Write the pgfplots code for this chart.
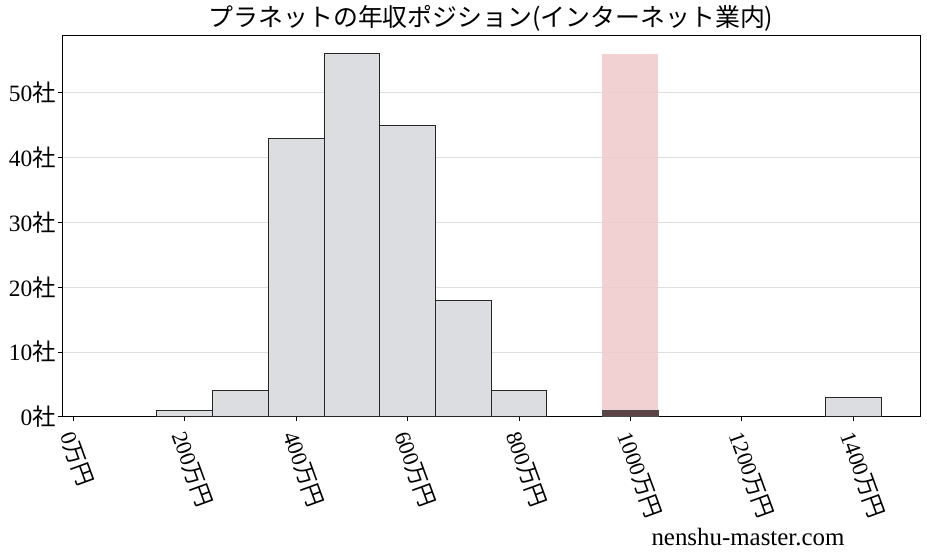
\documentclass[border=0pt]{standalone}
\usepackage{pgfplots}
\pgfplotsset{compat=1.18}
\usepackage{fontspec}
\setmainfont{Liberation Serif}
\newfontfamily\jp{Noto Sans CJK JP}
\definecolor{barfill}{RGB}{220,221,224}
\definecolor{hl}{RGB}{240,204,205}
\definecolor{darkbar}{RGB}{94,68,68}
\definecolor{gridc}{RGB}{222,222,222}
\begin{document}
\begin{tikzpicture}
\begin{axis}[name=ax, scale only axis, width=858bp, height=381bp,
  xmin=-20, xmax=1520, ymin=0, ymax=58.8,
  axis line style={black, line width=0.8bp},
  xtick={0,200,400,600,800,1000,1200,1400},
  xticklabels={0{\jp 万円},200{\jp 万円},400{\jp 万円},600{\jp 万円},800{\jp 万円},1000{\jp 万円},1200{\jp 万円},1400{\jp 万円}},
  ytick={0,10,20,30,40,50},
  yticklabels={0{\jp 社},10{\jp 社},20{\jp 社},30{\jp 社},40{\jp 社},50{\jp 社}},
  xtick pos=bottom, ytick pos=left, tick align=outside,
  major tick length=4bp, tick style={black, line width=0.6bp},
  ymajorgrids, grid style={gridc, line width=0.6bp},
  xticklabel style={rotate=-70, anchor=north west, inner sep=1bp, xshift=8bp, yshift=1bp, font=\fontsize{22.5}{22.5}\selectfont},
  yticklabel style={font=\fontsize{23.5}{23.5}\selectfont, inner sep=2bp},
  title={\jp プラネットの年収ポジション(インターネット業内)},
  title style={font=\fontsize{25}{28}\selectfont, at={(0.5,1)}, anchor=center, yshift=11bp, inner sep=0pt},
  ybar, bar width=100, bar shift=0,
]
\addplot[fill=barfill, draw=black!85, line width=0.7bp] coordinates {
  (200,1) (300,4) (400,43) (500,56) (600,45) (700,18) (800,4) (1400,3)};
\addplot[fill=hl, draw=none, fill opacity=0.9] coordinates {(1000,56)};
\addplot[fill=darkbar, draw=black!70, line width=0.5bp] coordinates {(1000,1)};
\end{axis}
\node[font=\fontsize{25}{25}\selectfont, anchor=center] at ([xshift=-172bp,yshift=-120bp]ax.south east) {nenshu-master.com};
\path ([xshift=-62bp,yshift=-140bp]ax.south west) rectangle ([xshift=7bp,yshift=35.7bp]ax.north east);
\end{tikzpicture}
\end{document}
